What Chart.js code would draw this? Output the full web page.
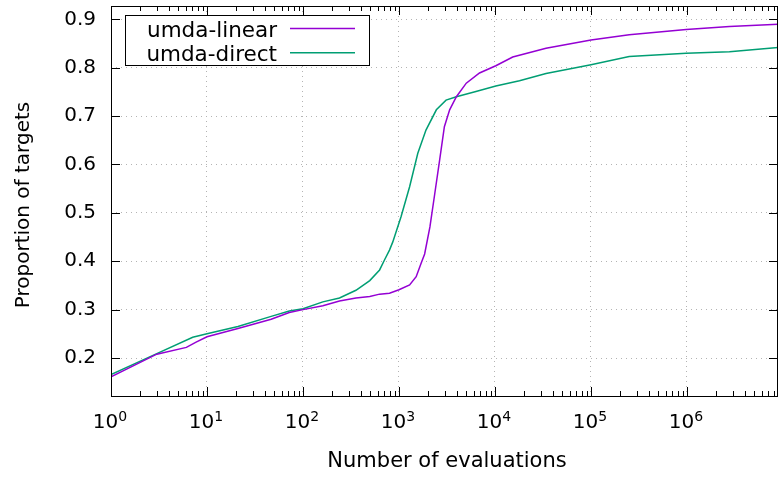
<!DOCTYPE html>
<html>
<head>
<meta charset="utf-8">
<script src="https://cdn.jsdelivr.net/npm/chart.js@4/dist/chart.umd.min.js"></script>
<style>
  body { margin: 0; background: #fff; }
  canvas { display: block; }
</style>
</head>
<body>
<canvas id="myChart" width="779" height="477"></canvas>
<script>

//series names and colours
var seriesNames = ["umda-linear", "umda-direct"];
var seriesColors = ["#9400d3", "#009e73"];

//umda-linear: evaluations and proportion of targets
var linearEvals = [1, 3, 6.1, 7.7, 10, 21, 46.6, 72, 100, 161, 240, 356, 496, 628, 796, 1000, 1290, 1510, 1700, 1850, 2100, 2360, 2650, 2970, 3370, 3960, 5020, 6900, 10200, 15300, 34000, 100000, 250000, 980000, 2770000, 8900000];
var linearProp = [0.161, 0.208, 0.222, 0.233, 0.244, 0.261, 0.280, 0.294, 0.300, 0.308, 0.318, 0.324, 0.327, 0.332, 0.334, 0.341, 0.351, 0.368, 0.396, 0.415, 0.471, 0.540, 0.609, 0.678, 0.713, 0.740, 0.768, 0.789, 0.804, 0.822, 0.840, 0.857, 0.868, 0.879, 0.885, 0.890];

//umda-direct: evaluations and proportion of targets
var directEvals = [1, 3, 7.1, 10, 21, 46.6, 72, 100, 161, 240, 356, 496, 628, 708, 796, 862, 1050, 1290, 1570, 1910, 2450, 3090, 3960, 6330, 10200, 15300, 18000, 34000, 100000, 250000, 980000, 2770000, 8900000];
var directProp = [0.166, 0.209, 0.243, 0.250, 0.265, 0.286, 0.297, 0.302, 0.316, 0.324, 0.340, 0.360, 0.382, 0.403, 0.423, 0.440, 0.492, 0.554, 0.623, 0.671, 0.713, 0.733, 0.740, 0.751, 0.762, 0.770, 0.773, 0.788, 0.806, 0.823, 0.830, 0.833, 0.842];

//ticks
var xTickExponents = [0, 1, 2, 3, 4, 5, 6];
var yTickValues = [0.2, 0.3, 0.4, 0.5, 0.6, 0.7, 0.8, 0.9];

//axis ranges
var xMin = 1;
var xMax = Math.pow(10, 6.948);
var yMin = 0.1215;
var yMax = 0.9275;

var FONT = "'DejaVu Sans', sans-serif";

//turn two arrays into {x, y} points
function toPoints(xs, ys){
    var pts = [];
    for(var i = 0; i < xs.length; i++){
        pts.push({x: xs[i], y: ys[i]});
    }
    return pts;
}

//frame, inward ticks, x labels with exponents, axis titles and legend
var gnuplotLook = {
    id: "gnuplotLook",
    afterDraw: function(chart){
        var ctx = chart.ctx;
        var area = chart.chartArea;
        var xs = chart.scales.x;
        var ys = chart.scales.y;
        ctx.save();

        //frame
        ctx.strokeStyle = "#000";
        ctx.lineWidth = 1;
        ctx.strokeRect(Math.round(area.left) + 0.5, Math.round(area.top) + 0.5,
            Math.round(area.right - area.left) - 1, Math.round(area.bottom - area.top));

        //x ticks, major and minor, on bottom and top
        ctx.beginPath();
        xTickExponents.forEach(function(k){
            for(var m = 1; m <= 9; m++){
                var v = m * Math.pow(10, k);
                if(v > xMax) break;
                var px = Math.round(xs.getPixelForValue(v)) + 0.5;
                var len = (m === 1) ? 9 : 5;
                ctx.moveTo(px, area.bottom);
                ctx.lineTo(px, area.bottom - len);
                ctx.moveTo(px, area.top);
                ctx.lineTo(px, area.top + len);
            }
        });

        //y ticks on left and right
        yTickValues.forEach(function(v){
            var py = Math.round(ys.getPixelForValue(v)) + 0.5;
            ctx.moveTo(area.left, py);
            ctx.lineTo(area.left + 9, py);
            ctx.moveTo(area.right, py);
            ctx.lineTo(area.right - 9, py);
        });
        ctx.stroke();

        //x tick labels as 10 with a raised exponent
        ctx.fillStyle = "#000";
        ctx.textBaseline = "alphabetic";
        ctx.textAlign = "left";
        xTickExponents.forEach(function(k){
            var px = xs.getPixelForValue(Math.pow(10, k));
            ctx.font = "20px " + FONT;
            var wBase = ctx.measureText("10").width;
            ctx.font = "14px " + FONT;
            var wExp = ctx.measureText(String(k)).width;
            var start = px - (wBase + wExp) / 2 - 1;
            ctx.font = "20px " + FONT;
            ctx.fillText("10", start, 428);
            ctx.font = "14px " + FONT;
            ctx.fillText(String(k), start + wBase, 420.5);
        });

        //axis titles
        ctx.font = "21px " + FONT;
        ctx.textAlign = "center";
        ctx.fillText("Number of evaluations", 447, 466.5);
        ctx.font = "20px " + FONT;
        ctx.save();
        ctx.translate(28.5, 205);
        ctx.rotate(-Math.PI / 2);
        ctx.fillText("Proportion of targets", 0, 0);
        ctx.restore();

        //legend box
        ctx.fillStyle = "#fff";
        ctx.fillRect(125.5, 15.5, 244, 50);
        ctx.strokeStyle = "#000";
        ctx.strokeRect(125.5, 15.5, 244, 50);
        ctx.textAlign = "right";
        ctx.font = "21.5px " + FONT;
        chart.data.datasets.forEach(function(ds, i){
            var lineY = 28.5 + i * 24.3;
            ctx.fillStyle = "#000";
            ctx.fillText(ds.label, 277, 36.5 + i * 24.5);
            ctx.strokeStyle = ds.borderColor;
            ctx.lineWidth = 1.5;
            ctx.beginPath();
            ctx.moveTo(290, lineY);
            ctx.lineTo(355, lineY);
            ctx.stroke();
        });

        ctx.restore();
    }
};

var ctx = document.getElementById("myChart");

var myChart = new Chart(ctx, {
    type: "line",
    data: {
        datasets: [
            {
                label: seriesNames[0],
                data: toPoints(linearEvals, linearProp),
                borderColor: seriesColors[0],
                borderWidth: 1.5,
                pointRadius: 0,
                tension: 0,
                fill: false
            },
            {
                label: seriesNames[1],
                data: toPoints(directEvals, directProp),
                borderColor: seriesColors[1],
                borderWidth: 1.5,
                pointRadius: 0,
                tension: 0,
                fill: false
            }
        ]
    },
    options: {
        responsive: false,
        animation: false,
        devicePixelRatio: 1,
        layout: {
            padding: {top: 6, right: 1, bottom: 0, left: 0}
        },
        plugins: {
            legend: {display: false},
            tooltip: {enabled: false}
        },
        scales: {
            x: {
                type: "logarithmic",
                min: xMin,
                max: xMax,
                afterBuildTicks: function(scale){
                    scale.ticks = xTickExponents.map(function(k){
                        return {value: Math.pow(10, k)};
                    });
                },
                afterFit: function(scale){
                    scale.height = 81;
                    scale.paddingLeft = 0;
                    scale.paddingRight = 0;
                },
                ticks: {display: false},
                grid: {
                    color: "#b4b4b4",
                    lineWidth: 1,
                    drawTicks: false
                },
                border: {display: false, dash: [1, 4]}
            },
            y: {
                min: yMin,
                max: yMax,
                afterBuildTicks: function(scale){
                    scale.ticks = yTickValues.map(function(v){
                        return {value: v};
                    });
                },
                afterFit: function(scale){
                    scale.width = 111;
                    scale.paddingTop = 0;
                    scale.paddingBottom = 0;
                },
                ticks: {
                    padding: 15,
                    color: "#000",
                    font: {family: FONT, size: 20},
                    callback: function(v){
                        return v.toFixed(1);
                    }
                },
                grid: {
                    color: "#b4b4b4",
                    lineWidth: 1,
                    drawTicks: false
                },
                border: {display: false, dash: [1, 4]}
            }
        }
    },
    plugins: [gnuplotLook]
});
</script>
</body>
</html>
